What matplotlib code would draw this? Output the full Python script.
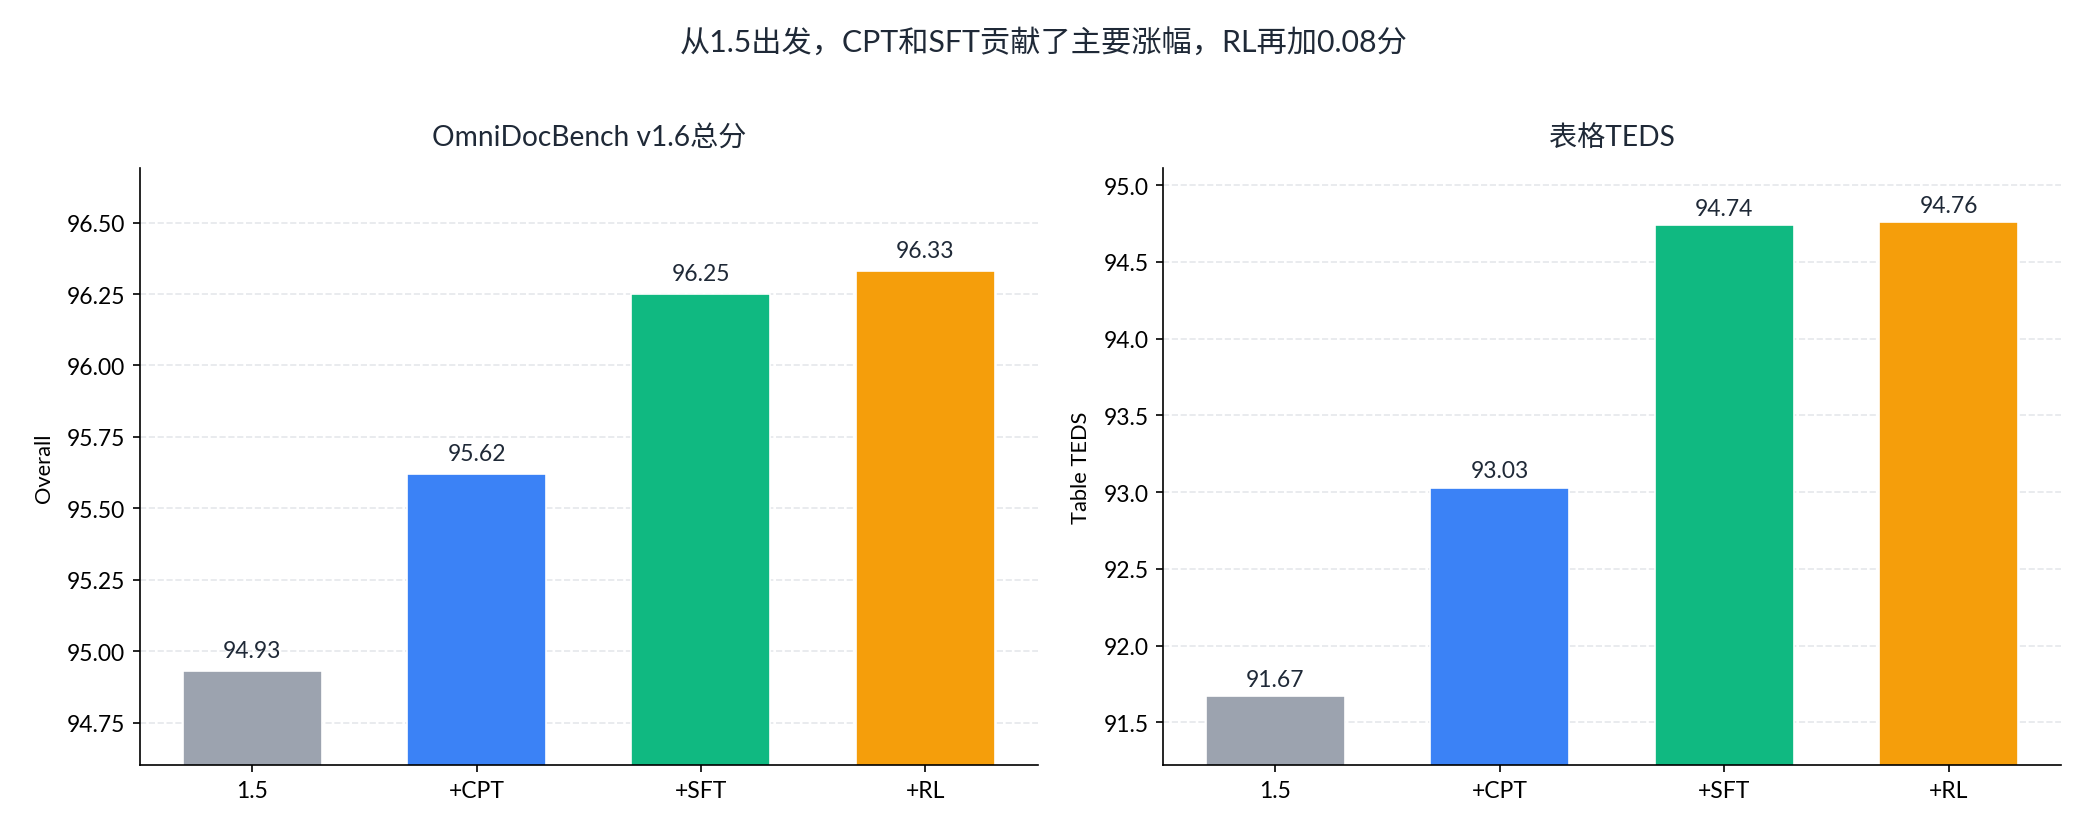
import numpy as np
import matplotlib.pyplot as plt

plt.rcParams['font.family'] = ['Lato', 'Noto Sans CJK SC', 'DejaVu Sans']

stages = ['1.5', '+CPT', '+SFT', '+RL']
overall = [94.93, 95.62, 96.25, 96.33]
teds = [91.67, 93.03, 94.74, 94.76]
colors = ['#9CA3AF', '#3B82F6', '#10B981', '#F59E0B']
text_dark = '#1f2937'

fig, axes = plt.subplots(1, 2, figsize=(13.92, 5.56), dpi=150)
fig.subplots_adjust(left=0.067, right=0.987, top=0.797, bottom=0.081, wspace=0.14)

panels = [
    (axes[0], overall, 'OmniDocBench v1.6总分', 'Overall', (94.60, 96.69), '%.2f', 0.035),
    (axes[1], teds, '表格TEDS', 'Table TEDS', (91.22, 95.11), '%.1f', 0.04),
]

for ax, vals, title, ylab, ylim, fmt, off in panels:
    x = np.arange(len(stages))
    ax.bar(x, vals, width=0.62, color=colors, edgecolor='white', linewidth=0.8, zorder=2)
    for xi, v in zip(x, vals):
        ax.text(xi, v + off, f'{v:.2f}', ha='center', va='bottom', fontsize=11, color=text_dark)
    ax.set_xticks(x)
    ax.set_xticklabels(stages, fontsize=11)
    ax.set_xlim(-0.5, 3.5)
    ax.set_ylim(*ylim)
    ax.yaxis.set_major_formatter(plt.FormatStrFormatter(fmt))
    ax.tick_params(axis='y', labelsize=11)
    ax.set_ylabel(ylab, fontsize=10.5, labelpad=6)
    ax.set_title(title, fontsize=13.5, color=text_dark, pad=11)
    ax.grid(axis='y', linestyle='--', color='#e5e7eb', linewidth=0.8, zorder=0)
    ax.set_axisbelow(True)
    ax.spines['top'].set_visible(False)
    ax.spines['right'].set_visible(False)

axes[0].set_yticks([94.75, 95.00, 95.25, 95.50, 95.75, 96.00, 96.25, 96.50])
axes[1].set_yticks([91.5, 92.0, 92.5, 93.0, 93.5, 94.0, 94.5, 95.0])

fig.suptitle('从1.5出发，CPT和SFT贡献了主要涨幅，RL再加0.08分', fontsize=14.5, color=text_dark, y=0.965)

fig.savefig('out.png', dpi=150)
